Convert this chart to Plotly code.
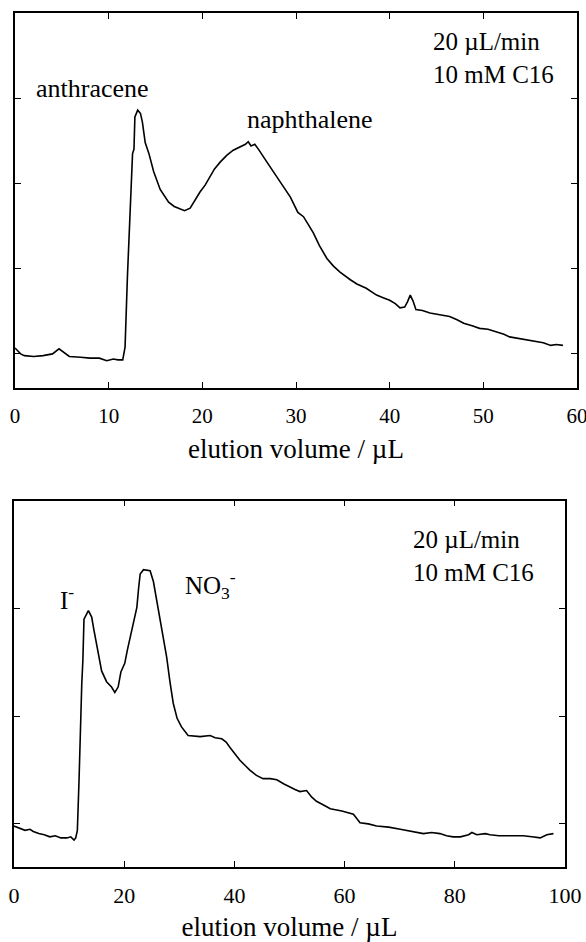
import plotly.graph_objects as go

# ---- data ----
top_x = [0.0, 0.3, 0.6, 1.0, 2.0, 3.0, 3.5, 4.0, 4.7, 5.2, 5.8, 7.0, 8.0, 9.0, 9.8, 10.5, 11.0, 11.5,
         11.75, 12.0, 12.3, 12.55, 12.7, 12.8, 13.1, 13.4, 13.6, 13.9, 14.3, 14.8, 15.5, 16.4, 17.0,
         17.6, 18.1, 18.7, 19.2, 19.75, 20.3, 20.8, 21.3, 21.9, 22.6, 23.3, 24.0, 24.6, 24.9, 25.2,
         25.6, 26.0, 26.9, 27.8, 28.6, 29.4, 30.2, 30.8, 31.3, 31.85, 32.5, 33.3, 34.0, 34.7, 35.8,
         36.5, 37.5, 38.6, 39.3, 40.0, 40.6, 41.1, 41.6, 41.9, 42.2, 42.5, 42.8, 43.5, 44.3, 45.3,
         46.4, 47.2, 47.9, 48.8, 49.6, 50.5, 51.4, 52.2, 52.8, 53.8, 55.0, 55.7, 56.4, 57.2, 57.8, 58.5]
top_y = [0.07, 0.03, 0.0, -0.02, -0.03, -0.02, -0.01, 0.0, 0.06, 0.02, -0.03, -0.04, -0.05, -0.05,
         -0.08, -0.06, -0.07, -0.07, 0.08, 0.9, 1.8, 2.35, 2.4, 2.78, 2.86, 2.82, 2.72, 2.48, 2.35,
         2.14, 1.93, 1.78, 1.73, 1.70, 1.68, 1.71, 1.80, 1.90, 1.98, 2.08, 2.17, 2.25, 2.33, 2.39,
         2.43, 2.46, 2.49, 2.44, 2.46, 2.40, 2.25, 2.10, 1.96, 1.84, 1.66, 1.61, 1.52, 1.42, 1.27,
         1.12, 1.03, 0.96, 0.87, 0.82, 0.77, 0.69, 0.66, 0.63, 0.59, 0.54, 0.55, 0.61, 0.69, 0.62,
         0.52, 0.51, 0.48, 0.46, 0.44, 0.40, 0.36, 0.33, 0.30, 0.29, 0.26, 0.23, 0.20, 0.18, 0.16,
         0.14, 0.13, 0.10, 0.11, 0.10]

bot_x = [0.0, 1.0, 2.0, 2.9, 3.5, 4.5, 5.5, 6.5, 7.5, 8.5, 9.6, 10.3, 10.9, 11.2, 11.5, 11.8, 12.0,
         12.3, 12.5, 12.7, 13.5, 14.1, 14.5, 15.0, 15.5, 15.9, 16.8, 17.7, 18.3, 18.9, 19.4, 20.1,
         20.6, 21.05, 21.7, 22.3, 22.6, 22.9, 23.5, 24.7, 25.3, 25.9, 26.5, 27.1, 27.7, 28.3, 28.9,
         29.6, 30.4, 31.6, 33.8, 35.6, 36.5, 37.7, 38.5, 39.2, 40.1, 41.0, 42.0, 42.8, 44.0, 45.2,
         46.5, 47.7, 49.0, 50.1, 51.0, 51.9, 53.1, 54.0, 54.9, 56.0, 57.4, 59.5, 61.6, 62.8, 64.3,
         65.8, 68.0, 70.1, 72.2, 74.3, 75.8, 77.3, 78.5, 79.7, 81.0, 82.5, 83.1, 84.0, 85.5, 86.4,
         88.0, 90.0, 92.4, 94.0, 95.5, 96.7, 97.9]
bot_y = [-0.02, -0.04, -0.06, -0.05, -0.07, -0.09, -0.10, -0.12, -0.11, -0.13, -0.13, -0.12, -0.15,
         -0.13, -0.06, 0.4, 0.81, 1.3, 1.52, 1.90, 1.98, 1.92, 1.80, 1.67, 1.52, 1.42, 1.32, 1.27,
         1.22, 1.27, 1.41, 1.49, 1.62, 1.73, 1.88, 2.01, 2.18, 2.32, 2.36, 2.35, 2.25, 2.08, 1.92,
         1.75, 1.55, 1.32, 1.12, 0.98, 0.90, 0.82, 0.81, 0.82, 0.80, 0.79, 0.76, 0.71, 0.65, 0.59,
         0.54, 0.50, 0.45, 0.42, 0.42, 0.41, 0.37, 0.34, 0.32, 0.30, 0.31, 0.25, 0.21, 0.18, 0.14,
         0.12, 0.09, 0.01, 0.0, -0.02, -0.03, -0.05, -0.07, -0.09, -0.08, -0.09, -0.11, -0.12,
         -0.12, -0.10, -0.08, -0.10, -0.09, -0.10, -0.11, -0.11, -0.11, -0.12, -0.13, -0.10, -0.09]

top_xticks = [0, 10, 20, 30, 40, 50, 60]
bot_xticks = [0, 20, 40, 60, 80, 100]
top_yticks = [0, 1, 2, 3]
bot_yticks = [0, 1, 2]
x_title = "elution volume / µL"
cond_text = "20 µL/min<br>10 mM C16"

FONT = "Liberation Serif"

fig = go.Figure()
fig.add_trace(go.Scatter(x=top_x, y=top_y, mode="lines", line=dict(color="black", width=1.6),
                         xaxis="x", yaxis="y", showlegend=False, hoverinfo="skip"))
fig.add_trace(go.Scatter(x=bot_x, y=bot_y, mode="lines", line=dict(color="black", width=1.6),
                         xaxis="x2", yaxis="y2", showlegend=False, hoverinfo="skip"))

common_ax = dict(showline=True, linecolor="black", linewidth=1.5, mirror="allticks",
                 ticks="inside", ticklen=6, tickwidth=1.3, tickcolor="black",
                 showgrid=False, zeroline=False)

fig.update_layout(
    width=586, height=942, autosize=False,
    margin=dict(l=0, r=0, t=0, b=0, autoexpand=False),
    paper_bgcolor="white", plot_bgcolor="white",
    font=dict(family=FONT, color="black"),
    xaxis=dict(domain=[15/586, 577/586], range=[0, 60], tickvals=top_xticks,
               anchor="y", tickfont=dict(size=21, family=FONT), ticklabelstandoff=8,
               ticklabeloverflow="allow",
               title=dict(text=x_title, font=dict(size=27, family=FONT), standoff=12),
               **common_ax),
    yaxis=dict(domain=[1-388/942, 1-13/942], range=[-0.4, 4.0], tickvals=top_yticks,
               showticklabels=False, anchor="x", **common_ax),
    xaxis2=dict(domain=[14/586, 565/586], range=[0, 100], tickvals=bot_xticks,
                anchor="y2", tickfont=dict(size=22, family=FONT), ticklabelstandoff=8,
                ticklabeloverflow="allow",
                title=dict(text=x_title, font=dict(size=27, family=FONT), standoff=14),
                **common_ax),
    yaxis2=dict(domain=[1-867/942, 1-500.7/942], range=[-0.4, 3.0], tickvals=bot_yticks,
                showticklabels=False, anchor="x2", **common_ax),
)

ann = [
    dict(x=2.0, y=3.12, xref="x", yref="y", text="anthracene", xanchor="left", yanchor="middle",
         font=dict(size=26)),
    dict(x=31.5, y=2.75, xref="x", yref="y", text="naphthalene", xanchor="center", yanchor="middle",
         font=dict(size=26)),
    dict(x=44.4, y=3.47, xref="x", yref="y", text=cond_text, xanchor="left", yanchor="middle",
         align="left", font=dict(size=25)),
    dict(x=8.0, y=2.10, xref="x2", yref="y2", text="I<sup>-</sup>", xanchor="left", yanchor="middle",
         font=dict(size=25)),
    dict(x=30.7, y=2.22, xref="x2", yref="y2", text="NO<sub>3</sub><sup>-</sup>", xanchor="left",
         yanchor="middle", font=dict(size=25)),
    dict(x=72.0, y=2.49, xref="x2", yref="y2", text=cond_text, xanchor="left", yanchor="middle",
         align="left", font=dict(size=25)),
]
for a in ann:
    a["showarrow"] = False
    a["font"]["family"] = FONT
    a["font"]["color"] = "black"
fig.update_layout(annotations=ann)

fig.write_html(
    "out.html",
    config={"responsive": False},
    post_script="document.documentElement.style.overflow='hidden';"
                "document.body.style.margin='0';document.body.style.overflow='hidden';",
)
